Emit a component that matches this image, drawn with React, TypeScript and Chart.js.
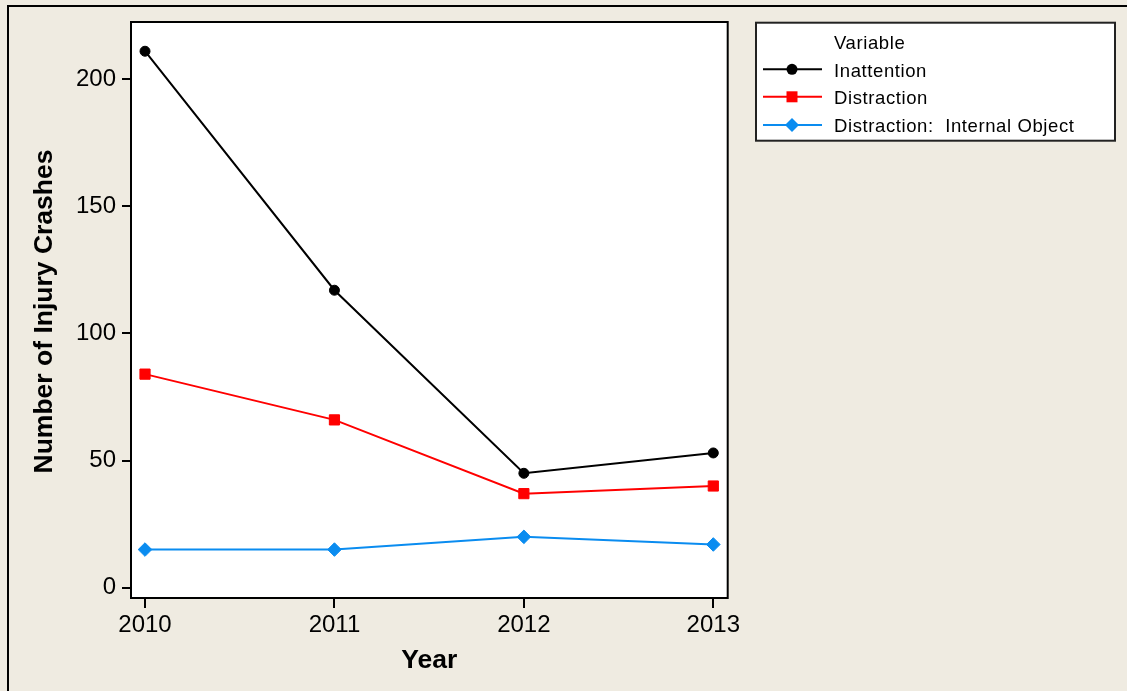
import React, { useEffect, useRef } from 'react';
import { Chart, registerables } from 'chart.js';

Chart.register(...registerables);

const years = [2010, 2011, 2012, 2013];
const inattention = [211, 117, 45, 53];
const distraction = [84, 66, 37, 40];
const internalObject = [15, 15, 20, 17];
const seriesNames = ['Inattention', 'Distraction', 'Distraction:  Internal Object'];
const yTicks = [0, 50, 100, 150, 200];
const legendTitle = 'Variable';
const xTitle = 'Year';
const yTitle = 'Number of Injury Crashes';

const FAMILY = '"Liberation Sans", Arial, sans-serif';

function drawMarker(ctx: CanvasRenderingContext2D, style: string, x: number, y: number, color: string) {
  ctx.fillStyle = color;
  ctx.beginPath();
  if (style === 'circle') {
    ctx.arc(x, y, 5.5, 0, Math.PI * 2);
  } else if (style === 'rect') {
    ctx.rect(x - 5.5, y - 5.5, 11, 11);
  } else {
    ctx.moveTo(x - 7, y);
    ctx.lineTo(x, y - 7);
    ctx.lineTo(x + 7, y);
    ctx.lineTo(x, y + 7);
    ctx.closePath();
  }
  ctx.fill();
}

const framePlugin = {
  id: 'frame',
  beforeDraw(chart: any) {
    const { ctx, width, height, chartArea: a } = chart;
    ctx.save();
    ctx.fillStyle = '#EFEBE1';
    ctx.fillRect(0, 0, width, height);
    ctx.fillStyle = '#000';
    ctx.fillRect(7, 5, width - 7, 2);
    ctx.fillRect(7, 5, 2, height - 5);
    ctx.fillStyle = '#FFFFFF';
    ctx.fillRect(a.left, a.top, a.right - a.left, a.bottom - a.top);
    ctx.restore();
  },
  afterDraw(chart: any) {
    const { ctx, chartArea: a } = chart;
    ctx.save();
    // plot border
    ctx.strokeStyle = '#000';
    ctx.lineWidth = 2;
    ctx.strokeRect(a.left, a.top, a.right - a.left, a.bottom - a.top);

    // axis titles
    ctx.fillStyle = '#000';
    ctx.font = `bold 26.5px ${FAMILY}`;
    ctx.textAlign = 'center';
    ctx.textBaseline = 'alphabetic';
    ctx.fillText(xTitle, (a.left + a.right) / 2, 668);
    ctx.save();
    ctx.translate(52, 311.5);
    ctx.rotate(-Math.PI / 2);
    ctx.fillText(yTitle, 0, 0);
    ctx.restore();

    // legend
    ctx.fillStyle = '#FFFFFF';
    ctx.fillRect(756, 22.7, 359, 118);
    ctx.strokeStyle = '#222';
    ctx.lineWidth = 2;
    ctx.strokeRect(756, 22.7, 359, 118);
    ctx.font = `18.5px ${FAMILY}`;
    (ctx as any).letterSpacing = '0.6px';
    ctx.textAlign = 'left';
    ctx.textBaseline = 'alphabetic';
    ctx.fillStyle = '#000';
    ctx.fillText(legendTitle, 834, 48.5);
    const rows = [69.3, 96.8, 125];
    chart.data.datasets.forEach((ds: any, i: number) => {
      const y = rows[i];
      ctx.strokeStyle = ds.borderColor;
      ctx.lineWidth = 2;
      ctx.beginPath();
      ctx.moveTo(763, y);
      ctx.lineTo(822, y);
      ctx.stroke();
      drawMarker(ctx, ds.pointStyle, 792, y, ds.borderColor);
      ctx.fillStyle = '#000';
      ctx.fillText(ds.label, 834, y + 7.3);
    });
    ctx.restore();
  },
};

export default function App() {
  const ref = useRef<HTMLCanvasElement>(null);
  useEffect(() => {
    document.body.style.margin = '0';
    const mk = (vals: number[]) => vals.map((v, i) => ({ x: years[i], y: v }));
    const chart = new Chart(ref.current as HTMLCanvasElement, {
      type: 'line',
      data: {
        datasets: [
          {
            label: seriesNames[0],
            data: mk(inattention),
            borderColor: '#000000',
            backgroundColor: '#000000',
            borderWidth: 2,
            pointStyle: 'circle',
            pointRadius: 5,
            pointBorderWidth: 1,
          },
          {
            label: seriesNames[1],
            data: mk(distraction),
            borderColor: '#FF0000',
            backgroundColor: '#FF0000',
            borderWidth: 2,
            pointStyle: 'rect',
            pointRadius: 7.2,
            pointBorderWidth: 1,
          },
          {
            label: seriesNames[2],
            data: mk(internalObject),
            borderColor: '#0A8CF0',
            backgroundColor: '#0A8CF0',
            borderWidth: 2,
            pointStyle: 'rectRot',
            pointRadius: 6.8,
            pointBorderWidth: 1,
          },
        ],
      },
      options: {
        animation: false,
        responsive: false,
        events: [],
        layout: { padding: { left: 0, top: 22, right: 399.3, bottom: 0 } },
        plugins: { legend: { display: false }, tooltip: { enabled: false } },
        scales: {
          x: {
            type: 'linear',
            min: 2009.926,
            max: 2013.076,
            afterBuildTicks: (s: any) => {
              s.ticks = years.map((v) => ({ value: v }));
            },
            afterFit: (s: any) => {
              s.height = 93;
            },
            ticks: {
              color: '#000',
              font: { family: FAMILY, size: 24 },
              padding: 3,
              maxRotation: 0,
              autoSkip: false,
              callback: (v: any) => String(v),
            },
            grid: { drawOnChartArea: false, drawTicks: true, tickLength: 10, color: '#000', lineWidth: 2 },
            border: { display: false },
          },
          y: {
            type: 'linear',
            min: -4.05,
            max: 222.5,
            afterBuildTicks: (s: any) => {
              s.ticks = yTicks.map((v) => ({ value: v }));
            },
            afterFit: (s: any) => {
              s.width = 131;
            },
            ticks: {
              color: '#000',
              font: { family: FAMILY, size: 24 },
              padding: 6,
              autoSkip: false,
              callback: (v: any) => String(v),
            },
            grid: { drawOnChartArea: false, drawTicks: true, tickLength: 9, color: '#000', lineWidth: 2 },
            border: { display: false },
          },
        },
      },
      plugins: [framePlugin],
    });
    return () => chart.destroy();
  }, []);
  return <canvas ref={ref} width={1127} height={691} style={{ display: 'block', width: 1127, height: 691 }} />;
}
